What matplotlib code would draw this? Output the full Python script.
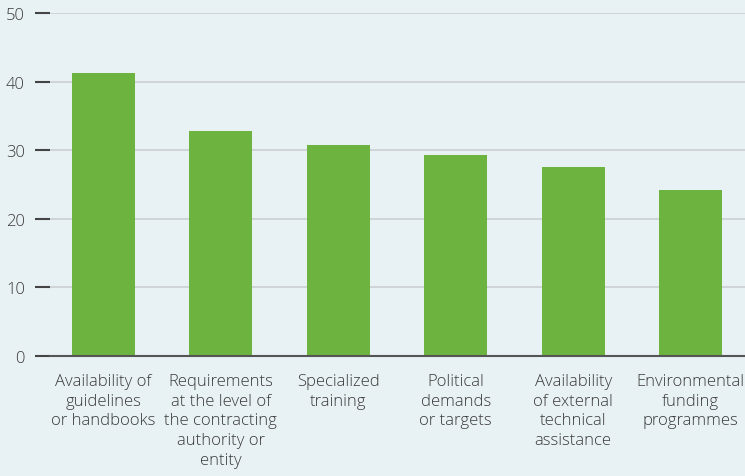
import matplotlib.pyplot as plt

categories = [
    "Availability of\nguidelines\nor handbooks",
    "Requirements\nat the level of\nthe contracting\nauthority or\nentity",
    "Specialized\ntraining",
    "Political\ndemands\nor targets",
    "Availability\nof external\ntechnical\nassistance",
    "Environmental\nfunding\nprogrammes",
]
values = [41.3, 32.8, 30.8, 29.3, 27.6, 24.2]
yticks = [0, 10, 20, 30, 40, 50]

bg = "#e8f1f3"
green = "#6db33f"

plt.rcParams['font.family'] = ['Open Sans', 'DejaVu Sans']
plt.rcParams['font.weight'] = 'light'

fig = plt.figure(figsize=(7.45, 4.77), dpi=100, facecolor=bg)
ax = fig.add_axes([50 / 745, 120 / 477, 695 / 745, 343 / 477])
ax.set_facecolor(bg)

x = list(range(len(categories)))
ax.bar(x, values, width=0.537, color=green, zorder=3)

ax.set_xlim(-0.456, 5.464)
ax.set_ylim(0, 50)
ax.set_yticks(yticks)
ax.set_xticks(x)
ax.set_xticklabels(categories, fontsize=12, color="#3a3a3a", linespacing=1.32)

ax.grid(axis="y", color="#cdd3d5", lw=1.3, zorder=0)
for s in ["top", "right", "left"]:
    ax.spines[s].set_visible(False)
ax.spines["bottom"].set_color("#555555")
ax.spines["bottom"].set_linewidth(1.5)
ax.spines["bottom"].set_zorder(4)

ax.tick_params(axis="y", length=11, width=1.5, color="#444444", direction="out",
               labelsize=12, labelcolor="#3a3a3a", pad=7)
ax.tick_params(axis="x", length=0, pad=12)

plt.savefig("out.png", dpi=100, facecolor=bg)
